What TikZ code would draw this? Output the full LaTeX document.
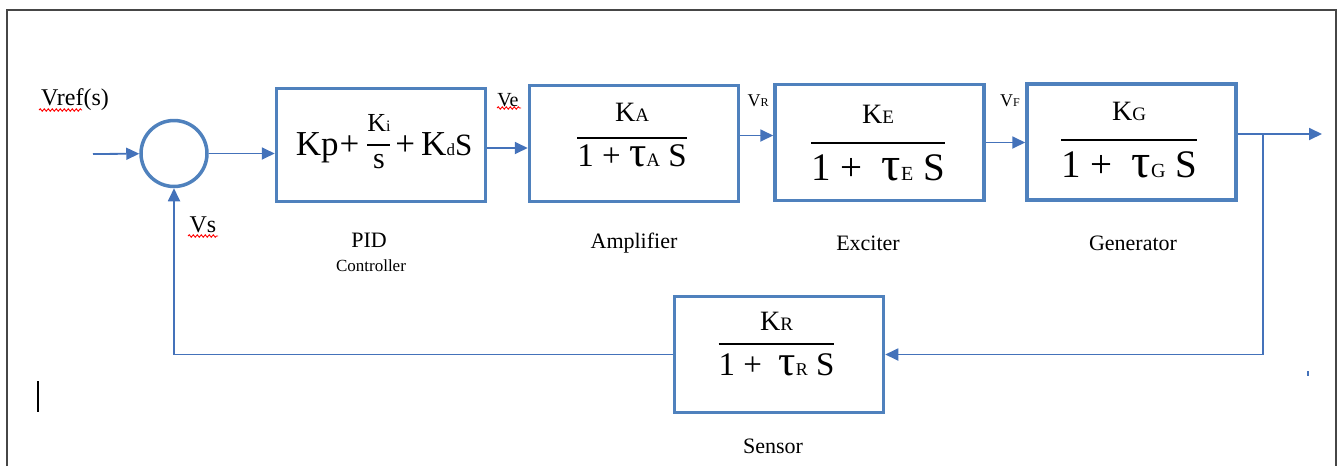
\documentclass[tikz,border=0pt]{standalone}
\usepackage{fontspec}
\setmainfont{Liberation Serif}
\usetikzlibrary{arrows.meta,decorations.pathmorphing}
\definecolor{boxblue}{RGB}{79,129,189}
\definecolor{lineblue}{RGB}{68,114,186}
\definecolor{framegray}{RGB}{70,70,70}
\newcommand{\sz}[2]{{\fontsize{#1}{#1}\selectfont #2}}
\newcommand{\fracbox}[5]{%
  \setbox0\hbox{#1}\setbox2\hbox{#2}%
  \ifdim\wd0>\wd2 \dimen0=\wd0 \else \dimen0=\wd2 \fi
  \vbox{\hbox to\dimen0{\hss\box0\hss}\kern#3\hrule height#4\kern#5\hbox to\dimen0{\hss\box2\hss}}}
\begin{document}
\begin{tikzpicture}[-, auto, thick, x=1pt, y=-1pt]
                \tikzstyle{block}=[rectangle, draw=boxblue, line width=3.5pt, minimum width=209pt, minimum height=116pt]
                \tikzstyle{sum}=[circle, draw=boxblue, line width=3.5pt, minimum size=66pt, inner sep=0pt]
                \tikzstyle{signal}=[draw=lineblue, line width=1.8pt, -{Triangle[length=13pt,width=12pt]}]
                \tikzstyle{tf}=[anchor=base, inner sep=0pt]
                \tikzstyle{tag}=[font=\fontsize{22pt}{24pt}\selectfont, inner sep=0pt]
                \tikzstyle{squiggle}=[draw=red, line width=0.9pt, decorate, decoration={snake, amplitude=1.2pt, segment length=4pt}]

                \useasboundingbox (0,0) rectangle (1341,466);
                \draw[framegray, line width=2pt] (7,466) -- (7,10) -- (1336,10) -- (1336,466);

                \node[sum] (sum) at (174,153.5) {};
                \node[block, minimum height=113pt] (pid) at (381,145) {};
                \node[block] (amp) at (634,143.5) {};
                \node[block] (exc) at (879.5,142.5) {};
                \node[block] (gen) at (1131.5,142) {};
                \node[block] (sensor) at (779,354.5) {};

                \node[tf] (pidtf) at (384,155) {\sz{35pt}{Kp\hspace{1pt}+\hspace{8pt}\raisebox{-13pt}{\fracbox{\sz{26pt}{K\sz{16pt}{i}}}{\sz{30pt}{s}}{13pt}{1.5pt}{8pt}}\hspace{5pt}+\hspace{6pt}K\sz{17pt}{d}\sz{31pt}{S}}};
                \node[tf] (amptf) at (632,166) {\fracbox{\sz{28pt}{K\sz{19pt}{A}}}{\sz{33pt}{1 +\ \sz{43pt}{τ}\sz{19pt}{A} S}}{16pt}{2pt}{5pt}};
                \node[tf] (exctf) at (878,180) {\fracbox{\sz{28pt}{K\sz{19pt}{E}}}{\sz{39pt}{1 +\ \ \sz{48pt}{τ}\sz{20pt}{E} S}}{18pt}{2.5pt}{10pt}};
                \node[tf] (gentf) at (1129,177) {\fracbox{\sz{28pt}{K\sz{19pt}{G}}}{\sz{39pt}{1 +\ \ \sz{48pt}{τ}\sz{20pt}{G} S}}{18pt}{2.5pt}{10pt}};
                \node[tf] (sensortf) at (776.5,375) {\fracbox{\sz{28pt}{K\sz{19pt}{R}}}{\sz{33pt}{1 +\ \ \sz{43pt}{τ}\sz{18pt}{R} S}}{13pt}{2pt}{8pt}};

                \node[tag, font=\fontsize{24pt}{26pt}\selectfont] (vref) at (75,100) {Vref(s)};
                \node[tag, font=\fontsize{24pt}{26pt}\selectfont] (vs) at (203,225) {Vs};
                \node[tag, font=\fontsize{20pt}{22pt}\selectfont] (ve) at (508,100) {Ve};
                \node[tag] (vr) at (758,101) {\sz{18pt}{V\sz{12pt}{R}}};
                \node[tag] (vf) at (1010,101) {\sz{18pt}{V\sz{12pt}{F}}};

                \node[tag] (pidname) at (369,240) {PID};
                \node[tag, font=\fontsize{17pt}{19pt}\selectfont] (ctrlname) at (371,266) {Controller};
                \node[tag] (ampname) at (634,243) {Amplifier};
                \node[tag] (excname) at (868,243) {Exciter};
                \node[tag] (genname) at (1133,243) {Generator};
                \node[tag] (sensorname) at (773,446) {Sensor};

                \coordinate (in) at (93,154);
                \coordinate (out) at (1322,134);
                \coordinate (tap) at (1263,134);

                \path (in) edge[signal] (sum);
                \path (sum.east) edge[signal] (sum.east -| pid.west);
                \path ([yshift=-3pt]pid.east) edge[signal] ([yshift=-3pt]pid.east -| amp.west);
                \path ([yshift=8pt]amp.east) edge[signal] ([yshift=8pt]amp.east -| exc.west);
                \path (exc.east) edge[signal] (exc.east -| gen.west);
                \path ([yshift=8pt]gen.east) edge[signal] (out);
                \draw[signal] (tap) |- (sensor.east);
                \draw[signal] (sensor.west) -| (sum.south);

                \draw[squiggle] (39,110) -- (82,110);
                \draw[squiggle] (188,236) -- (218,236);
                \draw[squiggle] (497,108) -- (521,108);

                \draw[black, line width=1.5pt] (38,381) -- (38,412);
                \draw[lineblue, line width=1.5pt] (1308,371) -- (1308,376);
            \end{tikzpicture}
\end{document}
